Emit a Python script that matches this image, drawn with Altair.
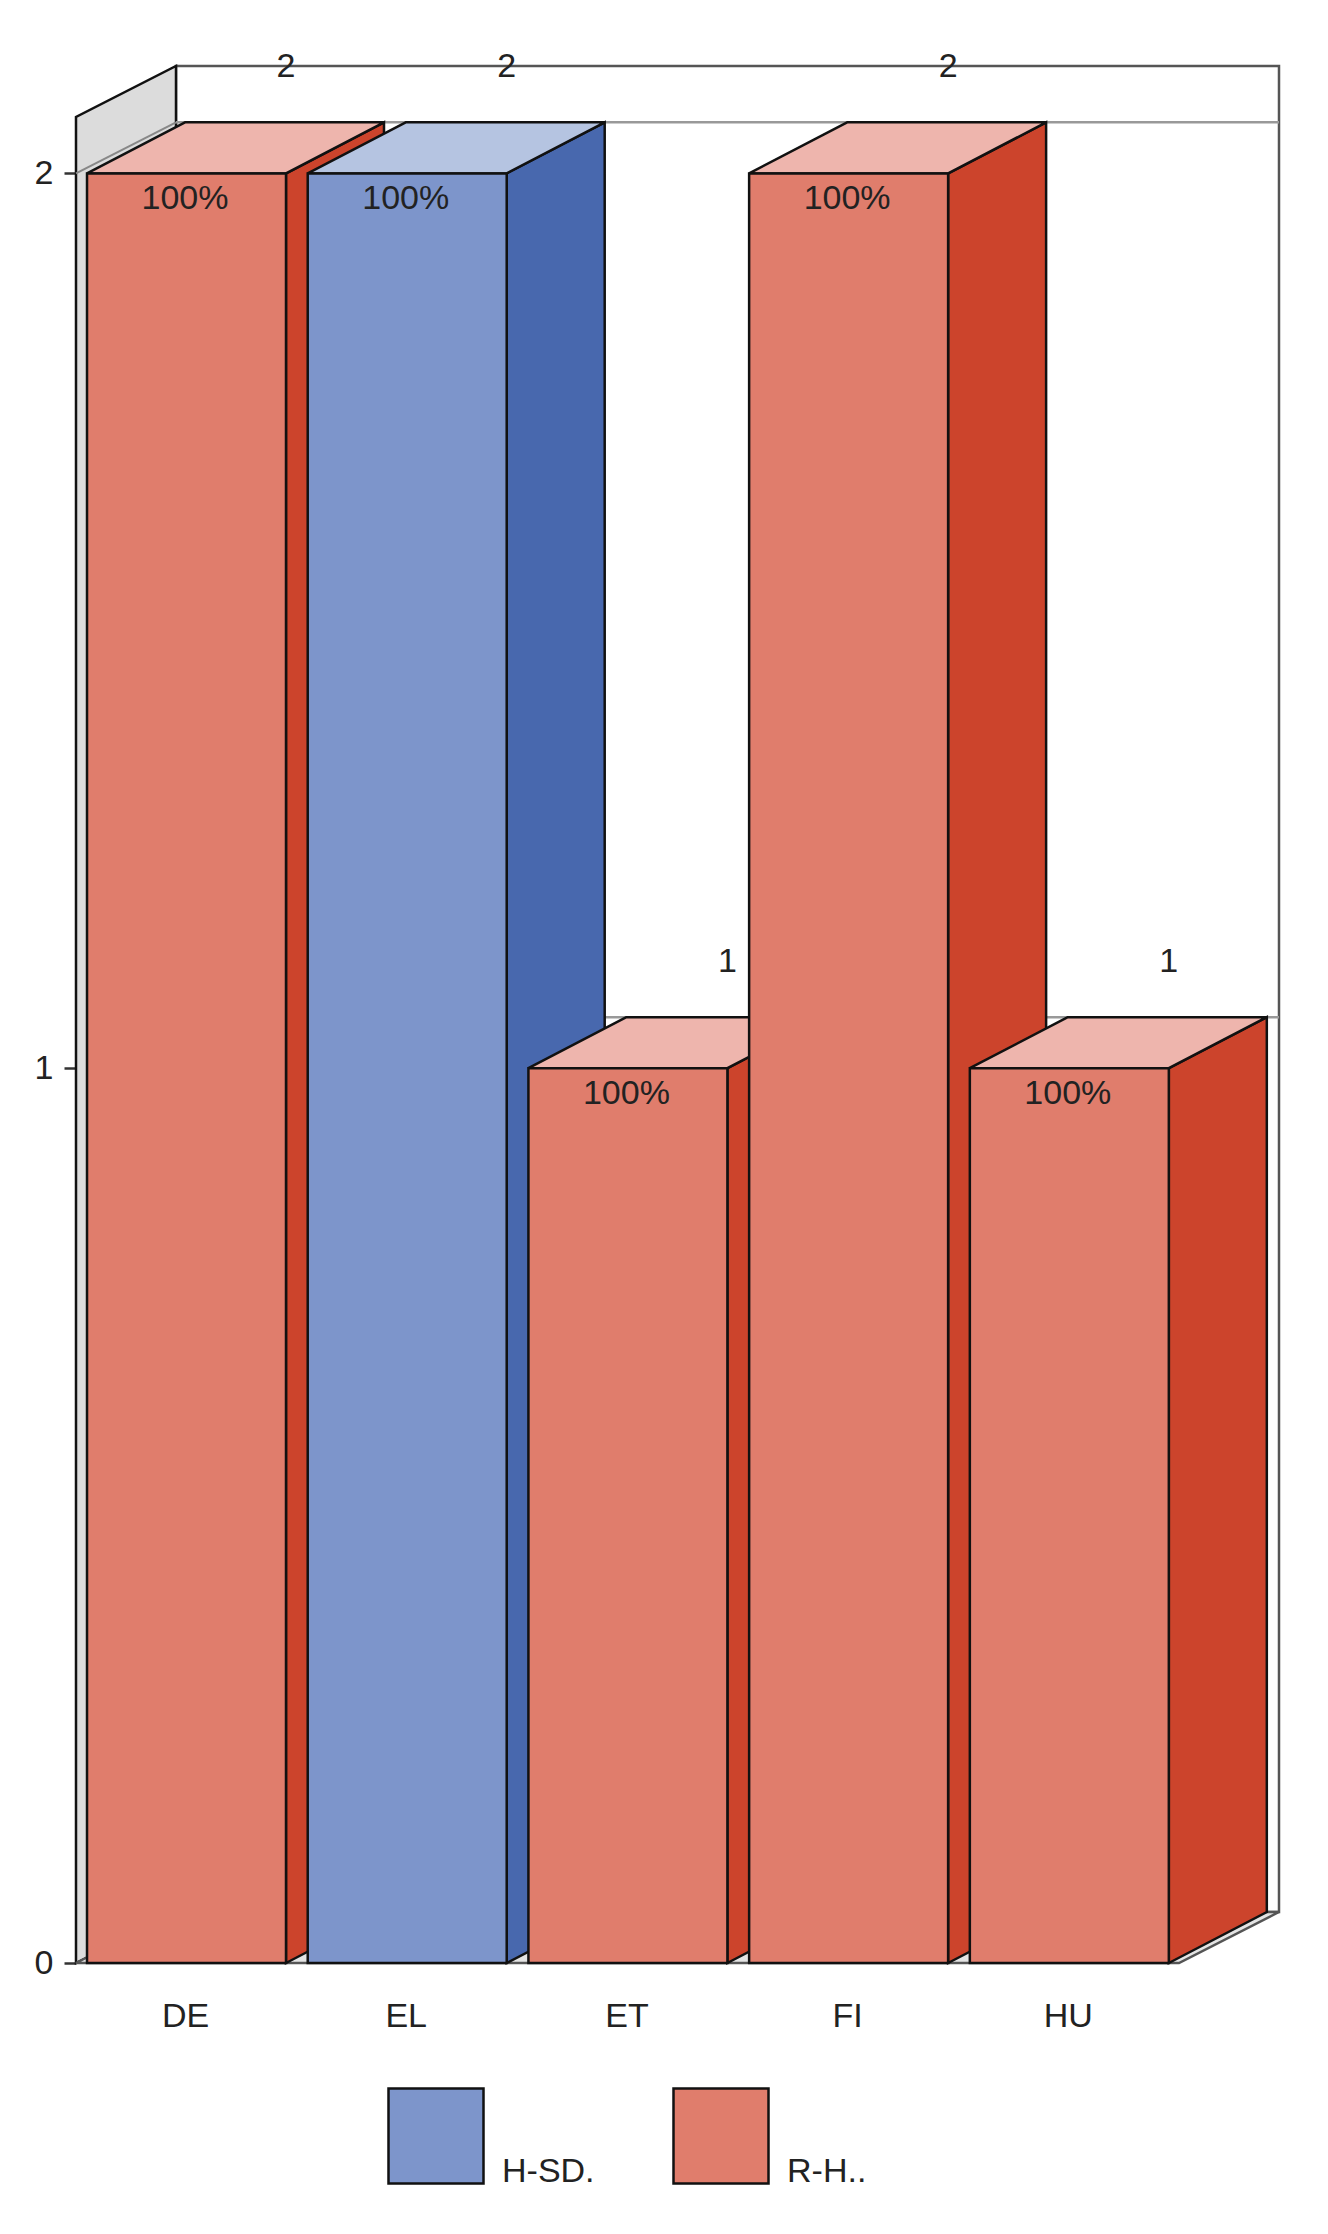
import altair as alt
import pandas as pd

categories = ["DE", "EL", "ET", "FI", "HU"]
totals = [2, 2, 1, 2, 1]
shares = ["100%", "100%", "100%", "100%", "100%"]
series = ["R-H..", "H-SD.", "R-H..", "R-H..", "R-H.."]

series_names = ["H-SD.", "R-H.."]
front_colors = {"H-SD.": "#7D95CB", "R-H..": "#E07D6C"}
side_colors = {"H-SD.": "#4868AE", "R-H..": "#CC442C"}
top_colors = {"H-SD.": "#B5C4E1", "R-H..": "#EEB5AD"}

FONT = "Liberation Sans"
FS = 34
INK = "#222222"
LINE = "#111111"
SW = 2.5

# scale set-up: 220.7 px per category slot, 895 px per unit
X_DOM = [-0.5007, 4.950]
Y_DOM = [0, 2.12]
HALF = 0.4508         # half a bar, in slots
BAR_DX = 0.444        # bar depth, in slots
WALL_DX = 0.4531      # wall depth, in slots
DY = 0.057            # depth rise, in units

X_AXIS = alt.Axis(
    values=list(range(len(categories))), domain=False, ticks=False, grid=False,
    labelExpr="[" + ",".join(repr(c) for c in categories) + "][datum.value]",
    labelFont=FONT, labelFontSize=FS, labelColor=INK, labelPadding=53, labelBaseline="middle",
    labelOverlap=False, labelOffset=-1.5, orient="bottom", title=None,
)
Y_AXIS = alt.Axis(
    values=[0.0, 1.0, 2.0], tickCount=50, labelExpr="format(datum.value, 'd')", domain=False, grid=False,
    tickSize=12, tickWidth=2.5, tickColor="#333333", labelFont=FONT, labelFontSize=FS, labelColor=INK,
    labelPadding=11, labelOverlap=False, labelFlush=False, orient="left", title=None,
)


def X(f="x"):
    return alt.X(f"{f}:Q", scale=alt.Scale(domain=X_DOM, nice=False, zero=False), axis=X_AXIS)


def Y(f="y"):
    return alt.Y(f"{f}:Q", scale=alt.Scale(domain=Y_DOM, nice=False, zero=False), axis=Y_AXIS)


X2 = lambda f="x2": alt.X2(f"{f}:Q")
Y2 = lambda f="y2": alt.Y2(f"{f}:Q")

x0, x1 = X_DOM
y_top = Y_DOM[1]

# --- room ---
back = alt.Chart(pd.DataFrame([{"x": x0 + WALL_DX, "x2": x1, "y": DY, "y2": y_top}])).mark_rect(
    fill="white", stroke="#555555", strokeWidth=SW
).encode(x=X(), x2=X2(), y=Y(), y2=Y2())

left_wall = alt.Chart(pd.DataFrame([
    {"x": x0, "y": 0, "y2": y_top - DY},
    {"x": x0 + WALL_DX, "y": DY, "y2": y_top},
])).mark_area(fill="#DCDCDC", stroke=LINE, strokeWidth=SW, opacity=1).encode(x=X(), y=Y(), y2=Y2())

floor = alt.Chart(pd.DataFrame([
    {"y": 0, "x": x0, "x2": x1 - WALL_DX},
    {"y": DY, "x": x0 + WALL_DX, "x2": x1},
])).mark_area(fill="#E4E4E4", stroke="#555555", strokeWidth=SW, opacity=1, orient="horizontal").encode(
    y=Y(), x=X(), x2=X2()
)

grid_back = alt.Chart(pd.DataFrame({"v": [1, 2]}).assign(
    x=x0 + WALL_DX, x2=x1, y=lambda d: d.v + DY
)).mark_rule(color="#999999", strokeWidth=2.5).encode(x=X(), x2=X2(), y=Y())

grid_left = alt.Chart(pd.DataFrame([
    {"g": v, "x": x0 + dx, "y": v + dy}
    for v in [2] for dx, dy in [(0, 0), (WALL_DX, DY)]
])).mark_line(color="#888888", strokeWidth=2).encode(x=X(), y=Y(), detail="g:N")

# --- bars ---
bar_layers = []
for i, (c, v, s) in enumerate(zip(categories, totals, series)):
    l, r = i - HALF, i + HALF
    side = alt.Chart(pd.DataFrame([
        {"x": r, "y": 0, "y2": v},
        {"x": r + BAR_DX, "y": DY, "y2": v + DY},
    ])).mark_area(fill=side_colors[s], stroke=LINE, strokeWidth=SW, opacity=1).encode(x=X(), y=Y(), y2=Y2())
    top = alt.Chart(pd.DataFrame([
        {"y": v, "x": l, "x2": r},
        {"y": v + DY, "x": l + BAR_DX, "x2": r + BAR_DX},
    ])).mark_area(fill=top_colors[s], stroke=LINE, strokeWidth=SW, opacity=1, orient="horizontal").encode(
        y=Y(), x=X(), x2=X2()
    )
    front = alt.Chart(pd.DataFrame([{"x": l, "x2": r, "y": 0, "y2": v, "series": s}])).mark_rect(
        stroke=LINE, strokeWidth=SW, opacity=1
    ).encode(
        x=X(), x2=X2(), y=Y(), y2=Y2(),
        color=alt.Color(
            "series:N",
            scale=alt.Scale(domain=series_names, range=[front_colors[n] for n in series_names]),
            legend=alt.Legend(
                title=None, orient="none", legendX=311, legendY=2021, direction="horizontal", columns=2,
                symbolType="square", symbolSize=9025, symbolStrokeColor=LINE, symbolStrokeWidth=SW,
                symbolOpacity=1, labelFont=FONT, labelFontSize=FS, labelColor=INK, labelOffset=17,
                columnPadding=73, padding=0, labelExpr="['', '', datum.label]",
            ),
        ),
    )
    bar_layers += [side, top, front]

df = pd.DataFrame({"cat": categories, "v": totals, "share": shares, "i": range(len(categories))})
df["r"] = df.i + HALF

share_text = alt.Chart(df).mark_text(font=FONT, fontSize=FS, color=INK, dy=26, dx=-1.5).encode(
    x=X("i"), y=Y("v"), text="share:N"
)
total_text = alt.Chart(df).mark_text(font=FONT, fontSize=FS, color=INK, dy=-106).encode(
    x=X("r"), y=Y("v"), text="v:Q"
)

chart = alt.layer(
    back, left_wall, floor, grid_back, grid_left, *bar_layers, share_text, total_text
).properties(
    width=1203, height=1897,
    autosize=alt.AutoSizeParams(type="none"),
    padding={"left": 68, "top": 58, "right": 30, "bottom": 255},
    background="white",
).configure_view(stroke=None)

chart.save("out.html", embed_options={"renderer": "svg", "actions": False})
